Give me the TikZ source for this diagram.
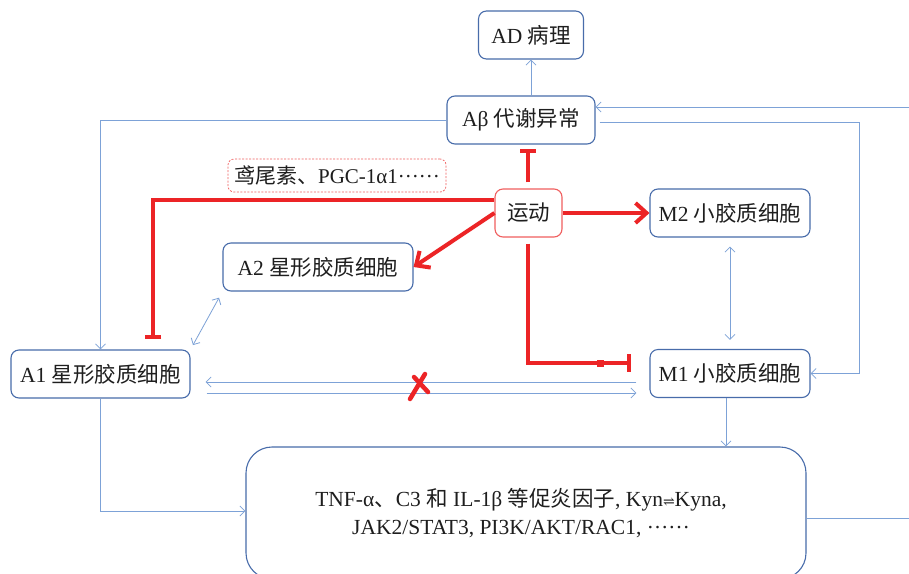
\documentclass[tikz,border=0pt]{standalone}
\usepackage{fontspec}
\setmainfont{Liberation Serif}
\newfontfamily\cjk{Noto Sans CJK SC}
\newfontfamily\symf{DejaVu Serif}
\usetikzlibrary{arrows.meta,calc}
\definecolor{boxblue}{RGB}{72,108,170}
\definecolor{linkblue}{RGB}{125,162,215}
\definecolor{myred}{RGB}{236,36,38}
\definecolor{lred}{RGB}{240,95,95}
\definecolor{txt}{RGB}{30,30,30}
\newcommand{\cdotsdots}{\raisebox{0.27em}{……}}
\tikzset{
  box/.style={draw=boxblue, line width=1.1pt, rounded corners=8pt, fill=white,
    minimum height=48pt, inner sep=0pt, text=txt, font=\fontsize{21.5}{25}\selectfont},
  ybox/.style={box, draw=lred},
  dbox/.style={draw=lred, line width=0.7pt, dashed, dash pattern=on 2pt off 1.5pt, rounded corners=6pt,
    minimum width=218pt, minimum height=33pt, inner sep=0pt, text=txt, font=\fontsize{21}{24}\selectfont},
  bigbox/.style={draw=boxblue, line width=1.1pt, rounded corners=26pt, minimum width=560pt,
    minimum height=132pt, inner sep=0pt, align=center, text=txt, font=\fontsize{21.5}{28}\selectfont},
  link/.style={draw=linkblue, line width=0.8pt},
  rline/.style={draw=myred, line width=4pt},
  redtip/.style={-{Straight Barb[length=11pt,width=20pt]}},
  bartip/.style={-{Bar[width=#1]}},
}
\begin{document}
\begin{tikzpicture}[x=1pt,y=-1pt, >={Straight Barb[length=5pt,width=10pt]}]
\clip (0,0) rectangle (909,573);
\fill[white] (0,0) rectangle (909,573);

\node[box, minimum width=105pt] (AD) at (531,35) {AD {\cjk 病理}};
\node[box, minimum width=148pt] (Ab) at (521,120) {Aβ {\cjk 代谢异常}};
\node[dbox] (D) at (337,175.5) {{\cjk 鸢尾素、}PGC-1α1\cdotsdots};
\node[ybox, minimum width=67pt] (Yd) at (528.5,213) {{\cjk 运动}};
\node[box, minimum width=160pt] (M2) at (730,213) {M2 {\cjk 小胶质细胞}};
\node[box, minimum width=190pt] (A2) at (318,267) {A2 {\cjk 星形胶质细胞}};
\node[box, minimum width=179pt] (A1) at (100.5,374) {A1 {\cjk 星形胶质细胞}};
\node[box, minimum width=160pt] (M1) at (730,373.5) {M1 {\cjk 小胶质细胞}};
\node[bigbox] (B) at (526,513) {TNF-α{\cjk 、}C3 {\cjk 和} IL-1β {\cjk 等促炎因子}, Kyn{\symf\fontsize{14}{14}\selectfont ⇌}Kyna,\hspace*{10pt}\\ JAK2/STAT3, PI3K/AKT/RAC1, \cdotsdots\hspace*{10pt}};

\coordinate (R1) at (915,107);
\coordinate (R2) at (915,518);
\coordinate (C1) at (859,122);
\coordinate (K) at (153,200);
\coordinate (J) at (528,363);

% blue connectors
\draw[link,->] (AD.south |- Ab.north) -- (AD.south);
\draw[link,->] ([yshift=-5pt]B.east) -- (R2) -- (R1) -- (R1 -| Ab.east);
\draw[link,->] ([xshift=4pt,yshift=-2pt]Ab.east) -- (C1) -- (C1 |- M1.east) -- (M1.east);
\draw[link,->] (Ab.west) -| (A1.north);
\draw[link,<->, shorten <=9pt, shorten >=9pt] (M2.south) -- (M1.north);
\draw[link,<->, shorten <=5pt, shorten >=7pt] (A1.north east) -- (A2.south west);
\draw[link,->, shorten <=13pt, shorten >=15pt] ([yshift=-8.5pt]M1.west) -- ([yshift=-8pt]A1.east);
\draw[link,->, shorten <=16pt, shorten >=13pt] ([yshift=-19pt]A1.east) -- ([yshift=-19.5pt]M1.west);
\draw[link,->] (A1.south) |- ([yshift=2pt]B.west);
\draw[link,->] ([xshift=-4pt]M1.south) -- ([xshift=-4pt]M1.south |- B.north);

% red connectors
\draw[rline, bartip=16pt, shorten <=6pt, shorten >=4pt] (Yd.north -| J) -- (J |- Ab.south);
\draw[rline, bartip=16pt] ([yshift=13pt]Yd.west) -| ([yshift=10pt]K |- A1.north);
\draw[rline, redtip] (Yd.east) -- (M2.west);
\draw[rline, redtip] (Yd.west) -- (A2.east);
\draw[rline, bartip=18pt, shorten <=6pt] (Yd.south -| J) |- ([xshift=-18pt]J -| M1.west);
\fill[myred] (596.5,359.5) rectangle (603.5,366.5);

% red cross
\draw[myred, line width=4.5pt, line cap=round] (425,374) -- (410,399);
\draw[myred, line width=4.5pt, line cap=round] (414,377) -- (428,392);
\end{tikzpicture}
\end{document}
